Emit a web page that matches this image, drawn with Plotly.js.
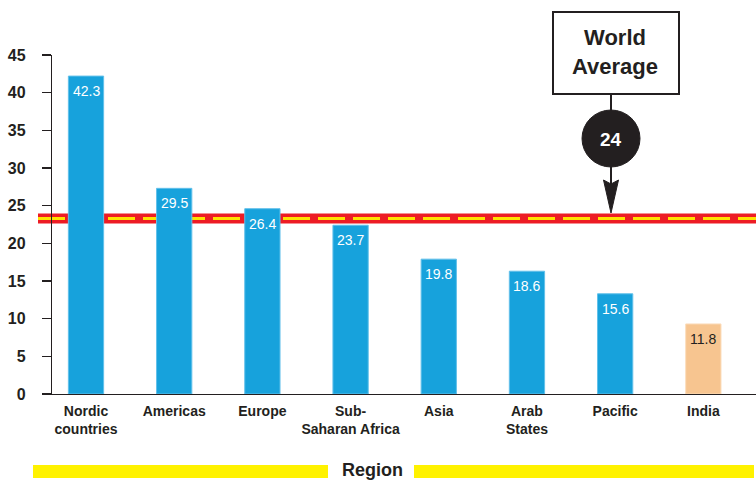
<!DOCTYPE html>
<html><head><meta charset="utf-8">
<script src="https://cdn.plot.ly/plotly-3.0.1.min.js"></script>
<style>html,body{margin:0;padding:0;background:#fff}</style>
</head><body><div id="chart" style="width:756px;height:480px"></div>
<script>
// ---- data ----
const categories = ['Nordic countries', 'Americas', 'Europe', 'Sub-Saharan Africa', 'Asia', 'Arab States', 'Pacific', 'India'];
const tickLabels = ['Nordic<br>countries', 'Americas', 'Europe', 'Sub-<br>Saharan Africa', 'Asia', 'Arab<br>States', 'Pacific', 'India'];
// bar heights as drawn in the picture
const barHeights = [42.2, 27.3, 24.6, 22.4, 17.9, 16.3, 13.3, 9.3];
// printed value labels
const valueLabels = ['42.3', '29.5', '26.4', '23.7', '19.8', '18.6', '15.6', '11.8'];
const worldAverageLine = 23.3;
const worldAverageLabel = '24';
const yTickVals = [0, 5, 10, 15, 20, 25, 30, 35, 40, 45];

// ---- styles ----
const BLUE = '#17a2dc', PEACH = '#f7c590', DARK = '#231f20';
const barColors = categories.map(c => c === 'India' ? PEACH : BLUE);
const barLines = categories.map(c => c === 'India' ? '#fbdcbc' : '#62c0ea');
const labelColors = categories.map(c => c === 'India' ? DARK : '#ffffff');
const SANS = "'Liberation Sans', Arial, sans-serif";

// plot area: x 52..756, y 55..394
const L = 52, R = 756, T = 55, B = 394;
const px = x => (x - L) / (R - L);
const py = y => (B - y) / (B - T);

const trace = {
  type: 'bar',
  x: categories,
  y: barHeights,
  width: categories.map(() => 0.4),
  marker: { color: barColors, line: { color: barLines, width: 1 } },
  hoverinfo: 'x+y'
};

const annotations = categories.map((c, i) => ({
  x: c, y: barHeights[i], xref: 'x', yref: 'y',
  text: valueLabels[i], showarrow: false, xanchor: 'center', yanchor: 'middle', yshift: -15,
  font: { family: SANS, size: 14, color: labelColors[i] }
}));
annotations.push({
  xref: 'paper', yref: 'paper', x: px(615), y: py(52), xanchor: 'center', yanchor: 'middle',
  text: 'World<br>Average', showarrow: false,
  font: { family: SANS, size: 22, color: DARK, weight: 'bold' }
});
annotations.push({
  xref: 'paper', yref: 'paper', x: px(611), y: py(139), xanchor: 'center', yanchor: 'middle',
  text: worldAverageLabel, showarrow: false,
  font: { family: SANS, size: 19, color: '#ffffff', weight: 'bold' }
});
annotations.push({
  xref: 'paper', yref: 'paper', x: px(372.5), y: py(470), xanchor: 'center', yanchor: 'middle',
  text: 'Region', showarrow: false,
  font: { family: SANS, size: 18, color: DARK, weight: 'bold' }
});

const shapes = [
  { type: 'line', layer: 'below', xref: 'paper', yref: 'y', x0: px(38), x1: 1, y0: worldAverageLine, y1: worldAverageLine,
    line: { color: '#ed1c24', width: 10 } },
  { type: 'line', layer: 'below', xref: 'paper', yref: 'y', x0: px(38), x1: 1, y0: worldAverageLine, y1: worldAverageLine,
    line: { color: '#ffe100', width: 3, dash: '27px,8px' } },
  { type: 'rect', xref: 'paper', yref: 'paper', x0: px(553), x1: px(679), y0: py(94), y1: py(12),
    line: { color: DARK, width: 2 }, fillcolor: '#ffffff', layer: 'below' },
  { type: 'line', xref: 'paper', yref: 'paper', x0: px(611), x1: px(611), y0: py(95), y1: py(112),
    line: { color: DARK, width: 2 } },
  { type: 'circle', xref: 'paper', yref: 'paper', x0: px(582), x1: px(640), y0: py(167), y1: py(110),
    line: { color: DARK, width: 1 }, fillcolor: DARK, layer: 'below' },
  { type: 'line', xref: 'paper', yref: 'paper', x0: px(611), x1: px(611), y0: py(166), y1: py(185),
    line: { color: DARK, width: 2 } },
  { type: 'path', xref: 'paper', yref: 'paper',
    path: `M ${px(603.5)},${py(180)} L ${px(611)},${py(213)} L ${px(618.5)},${py(180)} L ${px(611)},${py(184)} Z`,
    line: { color: DARK, width: 1 }, fillcolor: DARK },
  { type: 'rect', xref: 'paper', yref: 'paper', x0: px(33), x1: px(328), y0: py(478), y1: py(465),
    line: { width: 0 }, fillcolor: '#fff200' },
  { type: 'rect', xref: 'paper', yref: 'paper', x0: px(414), x1: px(754), y0: py(478), y1: py(465),
    line: { width: 0 }, fillcolor: '#fff200' }
];

const layout = {
  width: 756, height: 480,
  margin: { l: L, r: 756 - R, t: T, b: 480 - B, pad: 0 },
  paper_bgcolor: '#ffffff', plot_bgcolor: 'rgba(0,0,0,0)',
  showlegend: false,
  xaxis: {
    type: 'category', range: [-0.3855, 7.597],
    tickvals: categories, ticktext: tickLabels,
    showline: true, linecolor: DARK, linewidth: 1.2,
    ticks: '', showgrid: false, zeroline: false,
    tickfont: { family: SANS, size: 14, color: DARK, weight: 'bold' },
    ticklabelstandoff: 4
  },
  yaxis: {
    range: [0, 45], tickvals: yTickVals,
    showline: true, linecolor: DARK, linewidth: 1.2,
    ticks: 'outside', ticklen: 9, tickcolor: DARK, tickwidth: 1.2,
    showgrid: false, zeroline: false,
    tickfont: { family: SANS, size: 16, color: DARK, weight: 'bold' },
    ticklabelstandoff: 13
  },
  annotations: annotations,
  shapes: shapes
};

Plotly.newPlot('chart', [trace], layout, { displayModeBar: false, staticPlot: true });
</script>
</body></html>
